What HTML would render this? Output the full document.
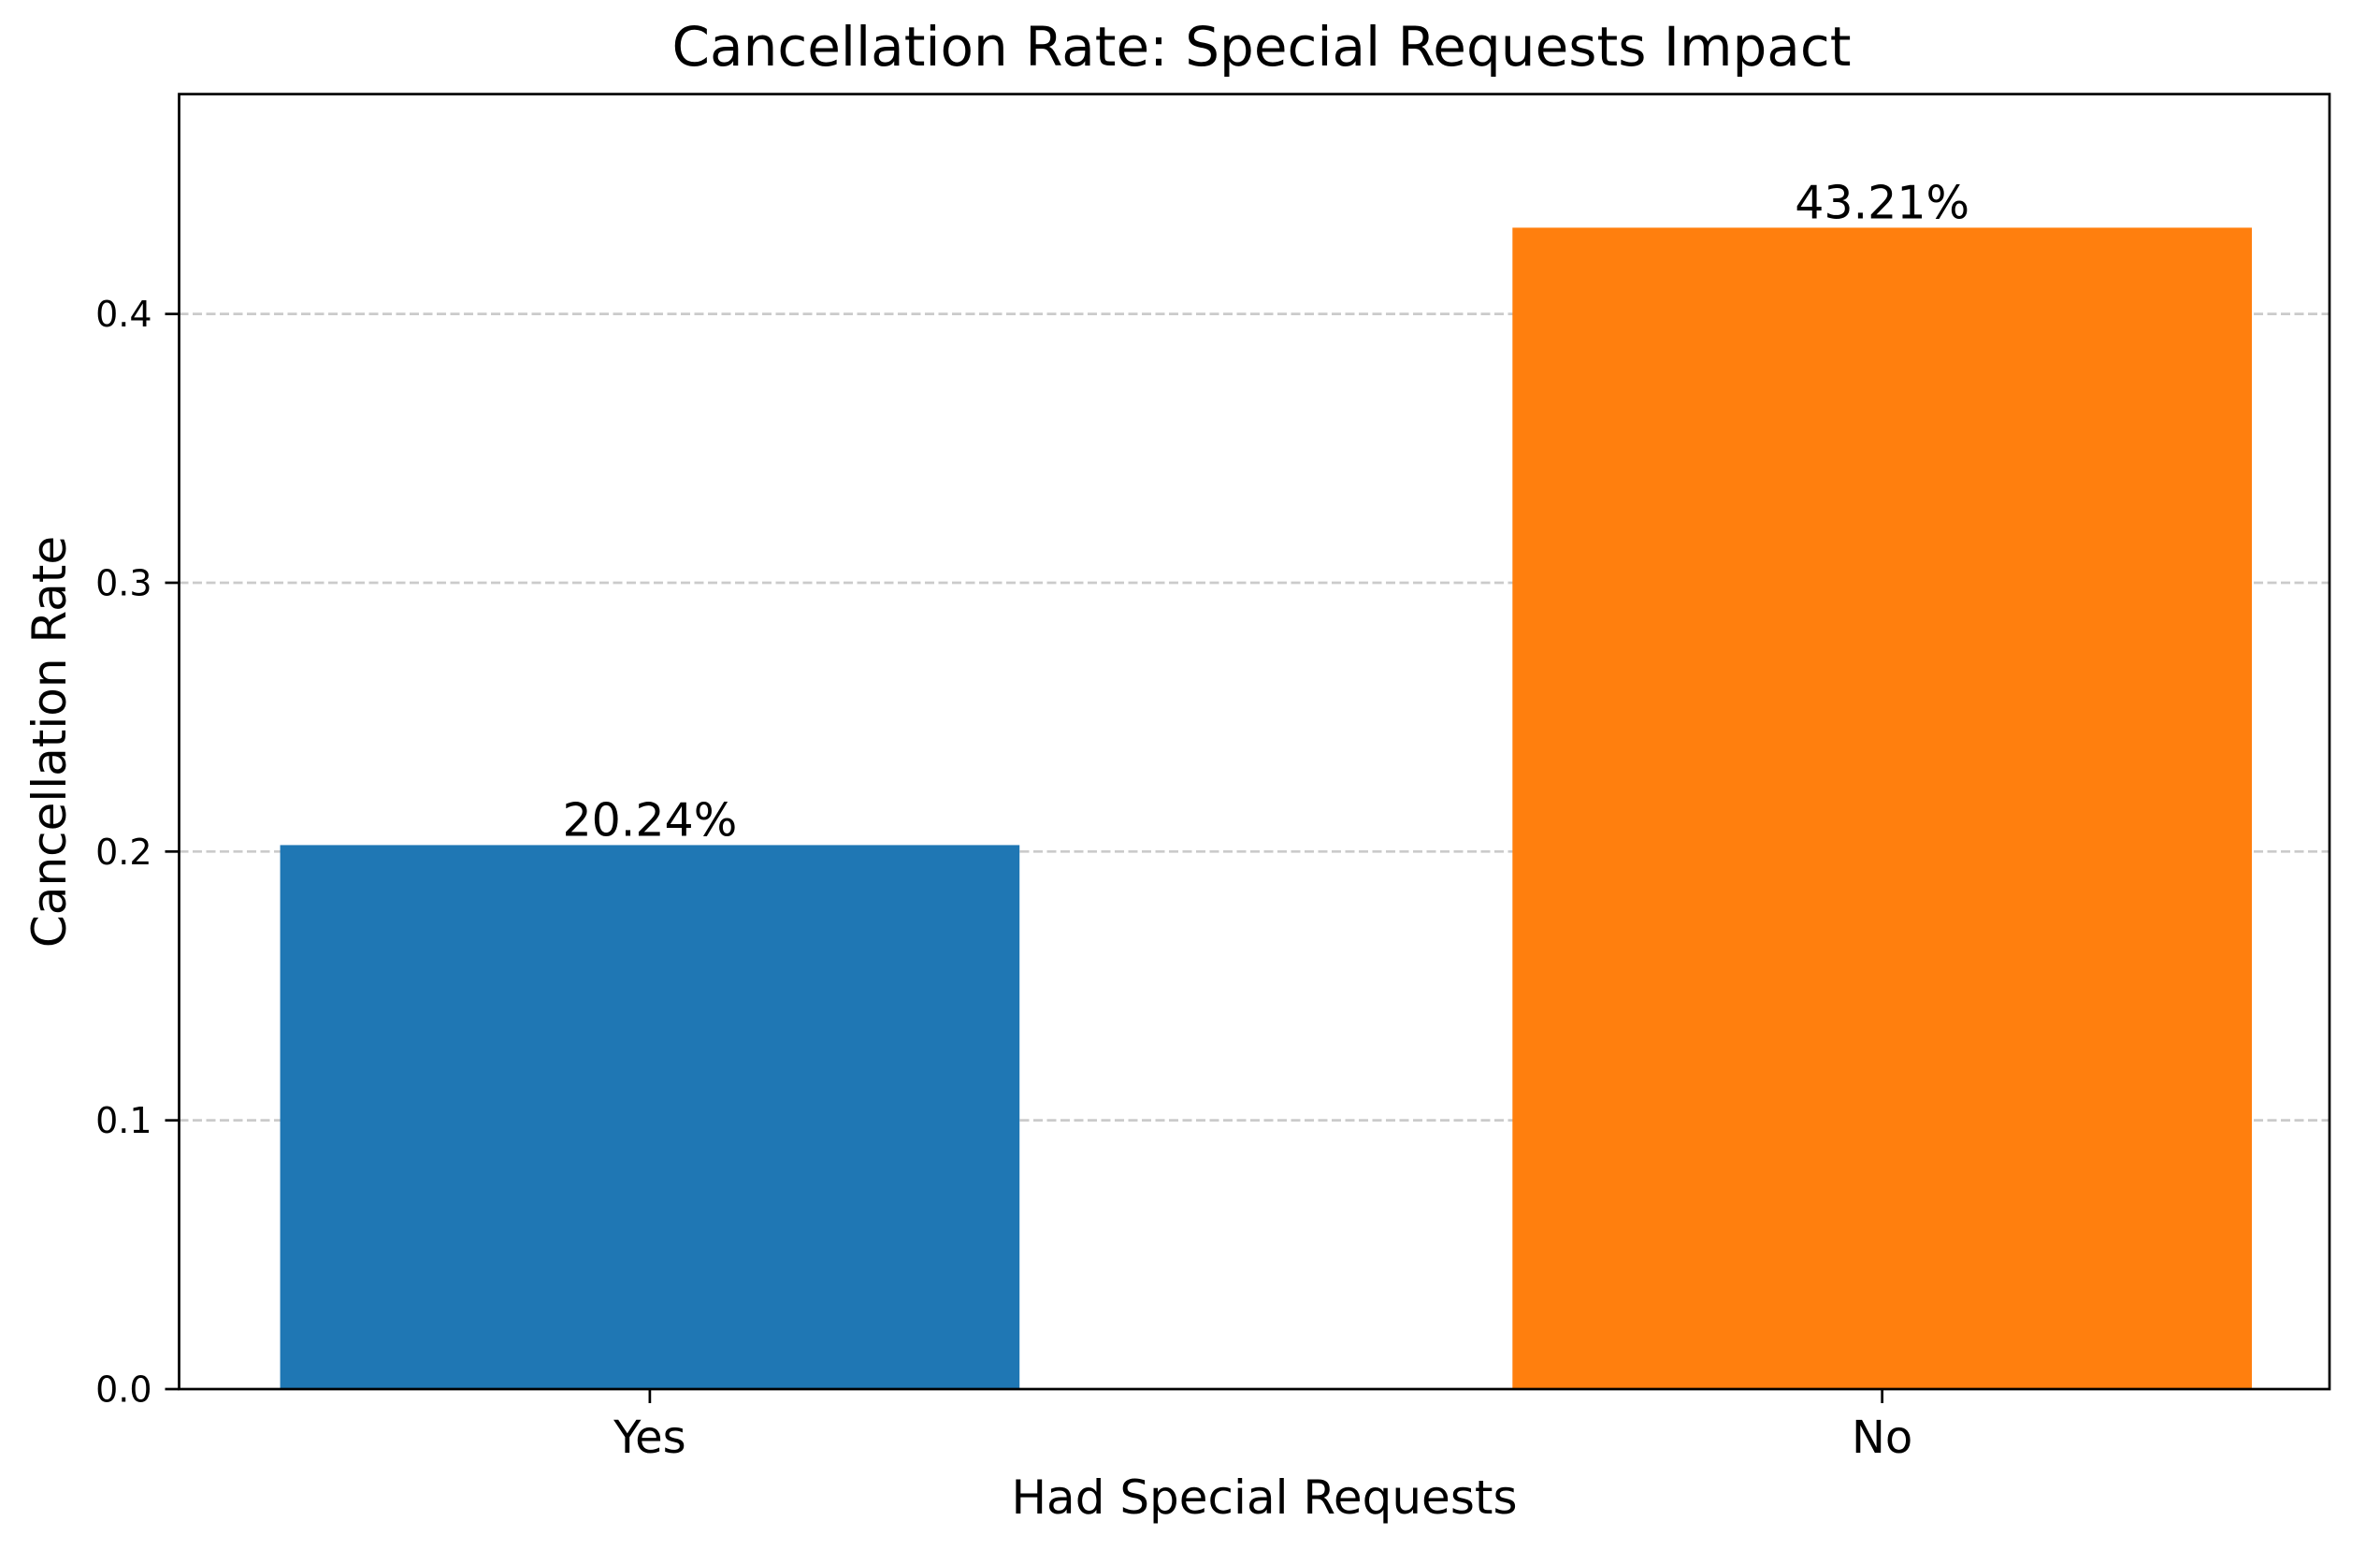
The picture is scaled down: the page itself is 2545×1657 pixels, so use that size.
<!DOCTYPE html>
<html><head><meta charset="utf-8"><style>
html,body{margin:0;padding:0;background:#fff;}
svg{display:block;font-family:"DejaVu Sans","Liberation Sans",sans-serif;}
</style></head>
<body>
<svg id="chart" width="2545" height="1657" viewBox="0 0 2545 1657" xmlns="http://www.w3.org/2000/svg">
<rect width="2545" height="1657" fill="#fff"/>
<g id="grid"></g>
<g id="bars"></g>
<g id="labels"></g>
<g id="axes"></g>
<text x="1349" y="70" text-anchor="middle" font-size="58" fill="#000">Cancellation Rate: Special Requests Impact</text>
<text x="1352" y="1618" text-anchor="middle" font-size="50" fill="#000">Had Special Requests</text>
<text x="0" y="0" transform="translate(70,793) rotate(-90)" text-anchor="middle" font-size="50" fill="#000">Cancellation Rate</text>
</svg>
<script>
const categories = ["Yes", "No"];
const rates = [0.2024, 0.4321];
const valueLabels = ["20.24%", "43.21%"];
const yTicks = [0.0, 0.1, 0.2, 0.3, 0.4];
const yTickLabels = ["0.0", "0.1", "0.2", "0.3", "0.4"];
const barColors = ["#1f77b4", "#ff7f0e"];

const NS = "http://www.w3.org/2000/svg";
const L = 191.5, R = 2491, T = 100.6, B = 1485;
const xMin = -0.382, xMax = 1.363, yMin = 0, yMax = 0.4818;
function xs(v){ return L + (v - xMin) / (xMax - xMin) * (R - L); }
function ys(v){ return B - (v - yMin) / (yMax - yMin) * (B - T); }
function mk(tag, attrs, parent){
  const e = document.createElementNS(NS, tag);
  for (const k in attrs) e.setAttribute(k, attrs[k]);
  parent.appendChild(e);
  return e;
}
const grid = document.getElementById('grid');
const bars = document.getElementById('bars');
const labels = document.getElementById('labels');
const axes = document.getElementById('axes');

yTicks.forEach((t, i) => {
  const y = ys(t);
  if (t > 0) {
    const g = mk('line', {x1: L, x2: R, y1: y, y2: y, stroke: '#cbcbcb', 'stroke-width': 2.7, 'stroke-dasharray': '10 4.5'}, grid);
    
    
  }
  const tk = mk('line', {x1: L - 15, x2: L, y1: y, y2: y, stroke: '#000', 'stroke-width': 2.7}, axes);
  
  
  const tl = mk('text', {x: L - 29, y: y + 13.5, 'text-anchor': 'end', 'font-size': 38, fill: '#000'}, axes);
  tl.textContent = yTickLabels[i];
  
  
});

categories.forEach((c, i) => {
  const cx = xs(i), w = 0.6 * (R - L) / (xMax - xMin);
  const top = ys(rates[i]);
  const b = mk('rect', {x: cx - w / 2, y: top, width: w, height: B - top, fill: barColors[i]}, bars);
  
  
  const v = mk('text', {x: cx, y: top - 10, 'text-anchor': 'middle', 'font-size': 49, fill: '#000'}, labels);
  v.textContent = valueLabels[i];
  
  
  const tk = mk('line', {x1: cx, x2: cx, y1: B, y2: B + 15, stroke: '#000', 'stroke-width': 2.7}, axes);
  
  
  const tl = mk('text', {x: cx, y: 1553, 'text-anchor': 'middle', 'font-size': 48, fill: '#000'}, axes);
  tl.textContent = c;
  
  
});

const frame = mk('rect', {x: L, y: T, width: R - L, height: B - T, fill: 'none', stroke: '#000', 'stroke-width': 2.7}, axes);


</script>
</body></html>
